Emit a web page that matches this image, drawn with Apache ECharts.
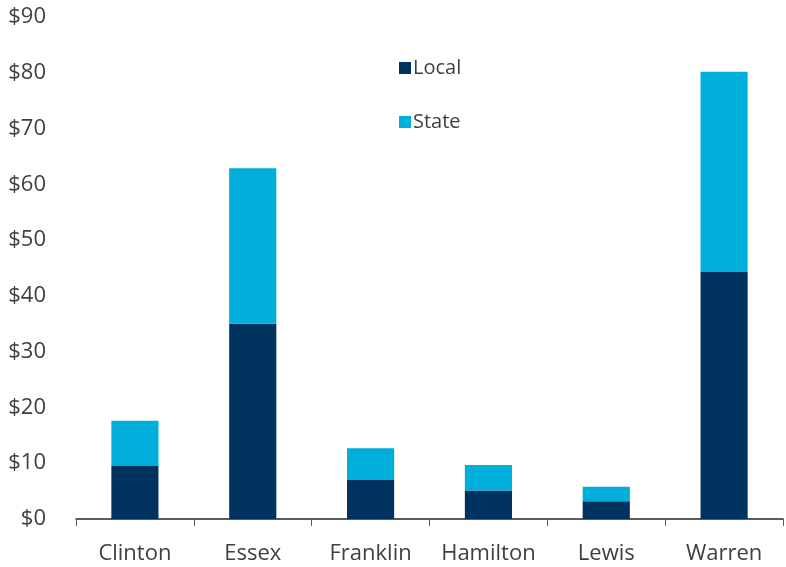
<!DOCTYPE html>
<html><head><meta charset="utf-8">
<script src="https://cdn.jsdelivr.net/npm/echarts@6/dist/echarts.min.js"></script>
<style>html,body{margin:0;padding:0;background:#fff}#c{width:786px;height:567px}</style>
</head><body><div id="c"></div>
<script>
const categories = ['Clinton','Essex','Franklin','Hamilton','Lewis','Warren'];
const localValues = [9.5, 35.0, 7.0, 5.1, 3.2, 44.3];
const stateValues = [8.1, 27.9, 5.7, 4.6, 2.6, 35.9];
const yTicks = {min: 0, max: 90, interval: 10};
const FONT = '"Open Sans", "Noto Sans", sans-serif';
const chart = echarts.init(document.getElementById('c'), null, {renderer: 'canvas'});
chart.setOption({
  animation: false,
  textStyle: {fontFamily: FONT},
  grid: {left: 76, right: 3, top: 17, bottom: 48, containLabel: false},
  legend: {
    orient: 'vertical', left: 394, top: 53,
    itemWidth: 12, itemHeight: 12, itemGap: 34,
    icon: 'rect',
    textStyle: {fontSize: 20, color: '#404040', fontFamily: FONT, lineHeight: 20, padding: [0,0,0,-3]},
    data: ['Local', 'State']
  },
  xAxis: {
    type: 'category', data: categories,
    axisLine: {lineStyle: {color: '#262626', width: 1.5}},
    axisTick: {show: true, interval: 0, length: 7, lineStyle: {color: '#595959'}},
    axisLabel: {interval: 0, fontSize: 22, color: '#404040', margin: 24, fontFamily: FONT}
  },
  yAxis: {
    type: 'value', min: yTicks.min, max: yTicks.max, interval: yTicks.interval,
    axisLine: {show: false}, axisTick: {show: false}, splitLine: {show: false},
    axisLabel: {fontSize: 22, color: '#404040', margin: 30, fontFamily: FONT, formatter: v => '$' + v}
  },
  series: [
    {name: 'Local', type: 'bar', stack: 'a', data: localValues, barWidth: '40%', itemStyle: {color: '#00325F'}},
    {name: 'State', type: 'bar', stack: 'a', data: stateValues, barWidth: '40%', itemStyle: {color: '#00AEDB'}}
  ]
});
</script></body></html>
